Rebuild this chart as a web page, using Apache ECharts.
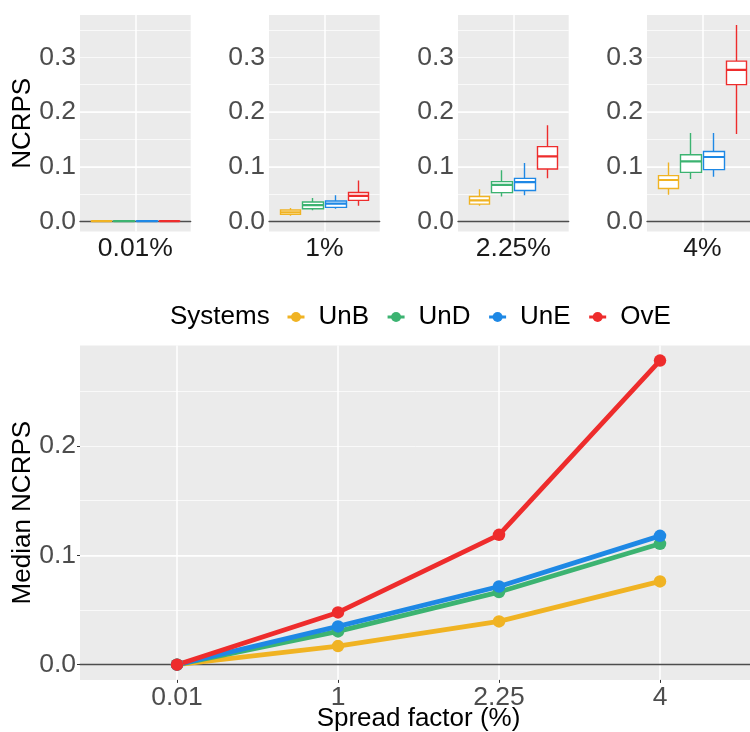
<!DOCTYPE html>
<html><head><meta charset="utf-8">
<script src="https://cdn.jsdelivr.net/npm/echarts@6/dist/echarts.min.js"></script>
<style>html,body{margin:0;padding:0;background:#fff}#c{width:750px;height:732px}</style>
</head><body><div id="c"></div>
<script>
// ---- data ----
const systems = ['UnB', 'UnD', 'UnE', 'OvE'];
const colors = ['#F0B323', '#3CB371', '#1E88E5', '#EE2C2C'];
const spreadLabels = ['0.01', '1', '2.25', '4'];
const panelLabels = ['0.01%', '1%', '2.25%', '4%'];
const topTicks = [0, 0.1, 0.2, 0.3];
const bottomTicks = [0, 0.1, 0.2];
// box stats per system: [min, q1, median, q3, max], order UnB, UnD, UnE, OvE
const box001 = [[0.0004, 0.0007, 0.001, 0.0013, 0.0016], [0.0004, 0.0007, 0.001, 0.0013, 0.0016], [0.0004, 0.0007, 0.001, 0.0013, 0.0016], [0.0004, 0.0007, 0.001, 0.0013, 0.0016]];
const box1 = [[0.011, 0.0133, 0.017, 0.0212, 0.025], [0.021, 0.0236, 0.030, 0.0358, 0.043], [0.0236, 0.026, 0.033, 0.0376, 0.048], [0.029, 0.0388, 0.047, 0.0533, 0.075]];
const box225 = [[0.029, 0.032, 0.039, 0.046, 0.059], [0.046, 0.053, 0.067, 0.073, 0.094], [0.048, 0.057, 0.072, 0.079, 0.107], [0.079, 0.096, 0.119, 0.137, 0.176]];
const box4 = [[0.049, 0.0606, 0.076, 0.084, 0.108], [0.078, 0.090, 0.110, 0.122, 0.162], [0.082, 0.095, 0.118, 0.128, 0.162], [0.160, 0.250, 0.277, 0.293, 0.359]];
// median NCRPS per spread factor
const medianUnB = [0, 0.017, 0.0396, 0.0761];
const medianUnD = [0, 0.0304, 0.0664, 0.1105];
const medianUnE = [0, 0.035, 0.0715, 0.1178];
const medianOvE = [0, 0.0478, 0.1187, 0.278];

// ---- layout / style ----
const FONT = 'Liberation Sans';
const boxPanels = [box001, box1, box225, box4];
const medians = [medianUnB, medianUnD, medianUnE, medianOvE];
const panelLefts = [80, 269, 458, 647];
const PW = 110.7, PT = 15.1, PH = 216.4;
const topMin = -0.01795, topMax = 0.37695;
const botMin = -0.0139, botMax = 0.2919;
const BT = 345.4, BH = 334.5;
const isMult = (v, s) => Math.abs(v / s - Math.round(v / s)) < 1e-6;
const tickLabel = {fontSize: 26.5, color: '#4d4d4d', fontFamily: FONT};

const grid = [], xAxis = [], yAxis = [], series = [];

function addYAxes(gi, mn, mx, nMinor, nMajor, ticks, name, showTicks) {
  yAxis.push({type: 'value', gridIndex: gi, position: 'left', min: mn, max: mx, splitNumber: nMinor,
    axisLine: {show: false}, axisTick: {show: false}, axisLabel: {show: false},
    splitLine: {show: true, showMinLine: false, showMaxLine: false, lineStyle: {color: '#ffffff', width: 0.7}}});
  const major = {type: 'value', gridIndex: gi, position: 'left', min: mn, max: mx, splitNumber: nMajor,
    axisLine: {show: false},
    axisTick: {show: showTicks, customValues: ticks, length: 3, lineStyle: {color: '#333333', width: 1}},
    axisLabel: Object.assign({customValues: ticks, margin: 4, hideOverlap: false,
      formatter: v => (isMult(v, 0.1) && v > -1e-9) ? v.toFixed(1) : ''}, tickLabel),
    splitLine: {show: true, showMinLine: false, showMaxLine: false, lineStyle: {color: '#ffffff', width: 1.5}}};
  if (name) Object.assign(major, {name: name, nameLocation: 'middle', nameGap: 44, nameRotate: 90,
    nameMoveOverlap: false,
    nameTextStyle: {fontSize: 26, color: '#000', fontFamily: FONT}});
  yAxis.push(major);
}
function zeroLineAxis(gi) {
  xAxis.push({type: 'value', gridIndex: gi, position: 'top', min: 0, max: 1,
    axisLine: {show: true, onZero: true, lineStyle: {color: '#4d4d4d', width: 1.3}},
    axisTick: {show: false}, axisLabel: {show: false}, splitLine: {show: false}});
}
function mkGrid(left, top, width, height, bg) {
  const g = {left: left, top: top, width: width, height: height, outerBoundsMode: 'none', containLabel: false,
    show: !!bg, borderWidth: 0};
  if (bg) g.backgroundColor = bg;
  return g;
}

// top panels: background grids 0..3
panelLefts.forEach(L => grid.push(mkGrid(L, PT, PW, PH, '#EBEBEB')));
// box grids 4..7
panelLefts.forEach(L => grid.push(mkGrid(L + 10, PT, 91, PH, null)));
// bottom grids 8 (background) 9 (data)
grid.push(mkGrid(80, BT, 677, BH, '#EBEBEB'));
grid.push(mkGrid(177, BT, 483, BH, null));

panelLefts.forEach((L, i) => {
  xAxis.push({type: 'value', gridIndex: i, min: 0, max: 1, splitNumber: 2,
    axisLine: {show: false, onZero: false}, axisTick: {show: false},
    axisLabel: {margin: 4, fontSize: 26.5, color: '#1a1a1a', fontFamily: FONT, hideOverlap: false,
      formatter: v => Math.abs(v - 0.5) < 1e-9 ? panelLabels[i] : ''},
    splitLine: {show: true, showMinLine: false, showMaxLine: false, lineStyle: {color: '#ffffff', width: 1.5}}});
  zeroLineAxis(i);
  addYAxes(i, topMin, topMax, 8, 4, topTicks, i === 0 ? 'NCRPS' : null, false);
});
const boxXStart = xAxis.length, boxYStart = yAxis.length;
panelLefts.forEach((L, i) => {
  xAxis.push({type: 'category', gridIndex: 4 + i, data: systems, show: false});
  yAxis.push({type: 'value', gridIndex: 4 + i, min: topMin, max: topMax, show: false});
});
zeroLineAxis(8);
addYAxes(8, botMin, botMax, 6, 3, bottomTicks, 'Median NCRPS', true);
const dataX = xAxis.length, dataY = yAxis.length;
xAxis.push({type: 'category', gridIndex: 9, data: spreadLabels, boundaryGap: false,
  axisLine: {show: false, onZero: false},
  axisTick: {show: true, length: 3, interval: 0, lineStyle: {color: '#333333', width: 1}},
  axisLabel: Object.assign({interval: 0, margin: 4}, tickLabel),
  splitLine: {show: true, interval: 0, lineStyle: {color: '#ffffff', width: 1.5}},
  name: 'Spread factor (%)', nameLocation: 'middle', nameGap: 26, nameMoveOverlap: false,
  nameTextStyle: {fontSize: 26, color: '#000', fontFamily: FONT}});
yAxis.push({type: 'value', gridIndex: 9, min: botMin, max: botMax, show: false});

// box series
boxPanels.forEach((bp, i) => {
  series.push({type: 'candlestick', xAxisIndex: boxXStart + i, yAxisIndex: boxYStart + i, barWidth: 21, silent: true,
    data: bp.map((b, k) => ({value: [b[1], b[3], b[0], b[4]],
      itemStyle: {color: '#ffffff', color0: '#ffffff', borderColor: colors[k], borderColor0: colors[k], borderColorDoji: colors[k], borderWidth: 1.4}}))});
  series.push({type: 'candlestick', xAxisIndex: boxXStart + i, yAxisIndex: boxYStart + i, barWidth: 21, silent: true,
    data: bp.map((b, k) => ({value: [b[2], b[2], b[2], b[2]],
      itemStyle: {color: colors[k], color0: colors[k], borderColor: colors[k], borderColor0: colors[k], borderColorDoji: colors[k], borderWidth: 2.2}}))});
});
// line series
medians.forEach((m, k) => {
  series.push({type: 'line', name: systems[k], xAxisIndex: dataX, yAxisIndex: dataY, data: m,
    symbol: 'circle', symbolSize: 12.5, clip: false, silent: true,
    lineStyle: {width: 4.8, color: colors[k]}, itemStyle: {color: colors[k]}});
});

const chart = echarts.init(document.getElementById('c'), null, {renderer: 'canvas'});
chart.setOption({
  animation: false,
  backgroundColor: '#ffffff',
  textStyle: {fontFamily: FONT},
  title: {text: 'Systems', left: 170, top: 304, padding: 0,
    textStyle: {fontSize: 26, fontWeight: 'normal', color: '#000', fontFamily: FONT}},
  legend: {data: systems, left: 286, top: 304, padding: 0, itemWidth: 17, itemHeight: 12.5, itemGap: 17,
    lineStyle: {width: 3}, selectedMode: false,
    textStyle: {fontSize: 26, color: '#000', fontFamily: FONT, padding: [0, 0, 0, 9]}},
  grid: grid, xAxis: xAxis, yAxis: yAxis, series: series
});
</script></body></html>
